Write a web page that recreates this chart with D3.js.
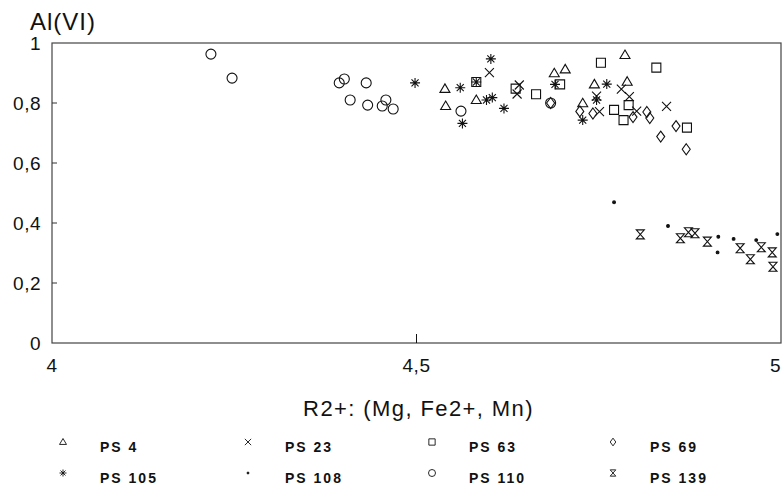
<!DOCTYPE html>
<html>
<head>
<meta charset="utf-8">
<script src="https://cdn.jsdelivr.net/npm/d3@7"></script>
<style>
  body { margin: 0; background: #fff; }
  text { font-family: "Liberation Sans", Arial, sans-serif; fill: #111; }
</style>
</head>
<body>
<script>
// series values: [R2+, Al(VI)]
const ps4 = [[4.786,0.96],[4.539,0.847],[4.540,0.79],[4.582,0.81],[4.704,0.912],[4.689,0.899],[4.744,0.862],[4.789,0.871],[4.728,0.799]];
const ps23 = [[4.600,0.901],[4.641,0.86],[4.638,0.83],[4.747,0.823],[4.751,0.771],[4.781,0.846],[4.792,0.821],[4.802,0.773],[4.843,0.789]];
const ps63 = [[4.582,0.87],[4.636,0.848],[4.664,0.829],[4.753,0.934],[4.697,0.862],[4.771,0.777],[4.791,0.793],[4.784,0.743],[4.829,0.918],[4.871,0.718]];
const ps69 = [[4.684,0.80],[4.724,0.772],[4.742,0.765],[4.797,0.753],[4.816,0.77],[4.820,0.75],[4.856,0.723],[4.835,0.688],[4.870,0.646]];
const ps105 = [[4.498,0.867],[4.560,0.851],[4.602,0.947],[4.563,0.732],[4.596,0.81],[4.604,0.818],[4.620,0.782],[4.582,0.87],[4.690,0.862],[4.761,0.863],[4.747,0.81],[4.728,0.743]];
const ps108 = [[4.771,0.469],[4.845,0.39],[4.914,0.354],[4.913,0.302],[4.935,0.347],[4.966,0.343],[4.995,0.363]];
const ps110 = [[4.218,0.963],[4.247,0.883],[4.394,0.867],[4.401,0.88],[4.431,0.867],[4.409,0.81],[4.433,0.793],[4.453,0.79],[4.458,0.81],[4.468,0.78],[4.561,0.773],[4.684,0.80]];
const ps139 = [[4.807,0.362],[4.862,0.349],[4.873,0.369],[4.882,0.366],[4.899,0.338],[4.944,0.316],[4.958,0.279],[4.973,0.319],[4.988,0.302],[4.989,0.254]];

const seriesNames = ["PS 4", "PS 23", "PS 63", "PS 69", "PS 105", "PS 108", "PS 110", "PS 139"];
const seriesData = [ps4, ps23, ps63, ps69, ps105, ps108, ps110, ps139];
const seriesShapes = ["triangle", "cross", "square", "diamond", "star", "dot", "circle", "hourglass"];

const yTicks = [0, 0.2, 0.4, 0.6, 0.8, 1];
const xTicks = [4, 4.5, 5];

const width = 784, height = 495;
const margin = {top: 43, right: 3, bottom: 152, left: 52};

const svg = d3.select("body").append("svg")
  .attr("width", width)
  .attr("height", height);

const x = d3.scaleLinear().domain([4, 5]).range([margin.left, width - margin.right]);
const y = d3.scaleLinear().domain([0, 1]).range([height - margin.bottom, margin.top]);

const fmt = d => String(d).replace(".", ",");

// symbol paths, s = scale
function shapePath(kind, s) {
  const p = d3.path();
  switch (kind) {
    case "triangle":
      p.moveTo(0, -5 * s); p.lineTo(5 * s, 3.5 * s); p.lineTo(-5 * s, 3.5 * s); p.closePath(); break;
    case "cross":
      p.moveTo(-4.5 * s, -4.5 * s); p.lineTo(4.5 * s, 4.5 * s);
      p.moveTo(4.5 * s, -4.5 * s); p.lineTo(-4.5 * s, 4.5 * s); break;
    case "square":
      p.rect(-4.5 * s, -4.5 * s, 9 * s, 9 * s); break;
    case "diamond":
      p.moveTo(0, -5.5 * s); p.lineTo(4 * s, 0); p.lineTo(0, 5.5 * s); p.lineTo(-4 * s, 0); p.closePath(); break;
    case "star":
      for (let i = 0; i < 4; i++) {
        const a = i * Math.PI / 4;
        p.moveTo(-5 * s * Math.cos(a), -5 * s * Math.sin(a));
        p.lineTo(5 * s * Math.cos(a), 5 * s * Math.sin(a));
      }
      break;
    case "dot":
      p.arc(0, 0, 1.4 * s, 0, 2 * Math.PI); break;
    case "circle":
      p.arc(0, 0, 5 * s, 0, 2 * Math.PI); break;
    case "hourglass":
      p.moveTo(-4 * s, -4.5 * s); p.lineTo(4 * s, -4.5 * s); p.lineTo(-4 * s, 4.5 * s);
      p.lineTo(4 * s, 4.5 * s); p.closePath(); break;
  }
  return p.toString();
}

// frame
svg.append("rect")
  .attr("x", x(4)).attr("y", y(1))
  .attr("width", x(5) - x(4)).attr("height", y(0) - y(1))
  .attr("fill", "none").attr("stroke", "#444").attr("stroke-width", 1.2);

// y axis ticks and labels
svg.append("g").selectAll("line")
  .data(yTicks.filter(d => d > 0 && d < 1))
  .join("line")
  .attr("x1", x(4)).attr("x2", x(4) + 5)
  .attr("y1", d => y(d)).attr("y2", d => y(d))
  .attr("stroke", "#333");

svg.append("g").selectAll("text")
  .data(yTicks)
  .join("text")
  .attr("x", x(4) - 11)
  .attr("y", d => y(d) + 7)
  .attr("text-anchor", "end")
  .attr("font-size", 19)
  .attr("letter-spacing", 0.5)
  .text(fmt);

// x axis tick (middle) and labels
svg.append("line")
  .attr("x1", x(4.5)).attr("x2", x(4.5))
  .attr("y1", y(0)).attr("y2", y(0) - 9)
  .attr("stroke", "#111");

svg.append("g").selectAll("text")
  .data(xTicks)
  .join("text")
  .attr("x", d => x(d))
  .attr("y", y(0) + 29)
  .attr("text-anchor", d => d === 5 ? "end" : "middle")
  .attr("font-size", 19)
  .attr("letter-spacing", 0.5)
  .text(fmt);

// titles
svg.append("text")
  .attr("x", 30).attr("y", 30)
  .attr("font-size", 24)
  .attr("letter-spacing", 1)
  .text("Al(VI)");

svg.append("text")
  .attr("x", x(4.5) + 2).attr("y", 416)
  .attr("text-anchor", "middle")
  .attr("font-size", 22)
  .attr("letter-spacing", 1.4)
  .text("R2+: (Mg, Fe2+, Mn)");

// points
seriesData.forEach((data, i) => {
  const kind = seriesShapes[i];
  svg.append("g").selectAll("path")
    .data(data)
    .join("path")
    .attr("transform", d => `translate(${x(d[0])},${y(d[1])})`)
    .attr("d", shapePath(kind, 1))
    .attr("fill", kind === "dot" ? "#111" : "none")
    .attr("stroke", "#111")
    .attr("stroke-width", 1.1);
});

// legend
const legendCols = [63, 248, 432, 613];
const legendRows = [447, 478];
const legend = svg.append("g").selectAll("g")
  .data(seriesNames)
  .join("g")
  .attr("transform", (d, i) => `translate(${legendCols[i % 4]},${legendRows[Math.floor(i / 4)]})`);

legend.append("path")
  .attr("transform", "translate(0,-5)")
  .attr("d", (d, i) => shapePath(seriesShapes[i], 0.7))
  .attr("fill", (d, i) => seriesShapes[i] === "dot" ? "#111" : "none")
  .attr("stroke", "#111")
  .attr("stroke-width", 0.9);

legend.append("text")
  .attr("x", 37)
  .attr("y", 5)
  .attr("font-size", 14)
  .attr("font-weight", "bold")
  .attr("letter-spacing", 2)
  .text(d => d);
</script>
</body>
</html>
